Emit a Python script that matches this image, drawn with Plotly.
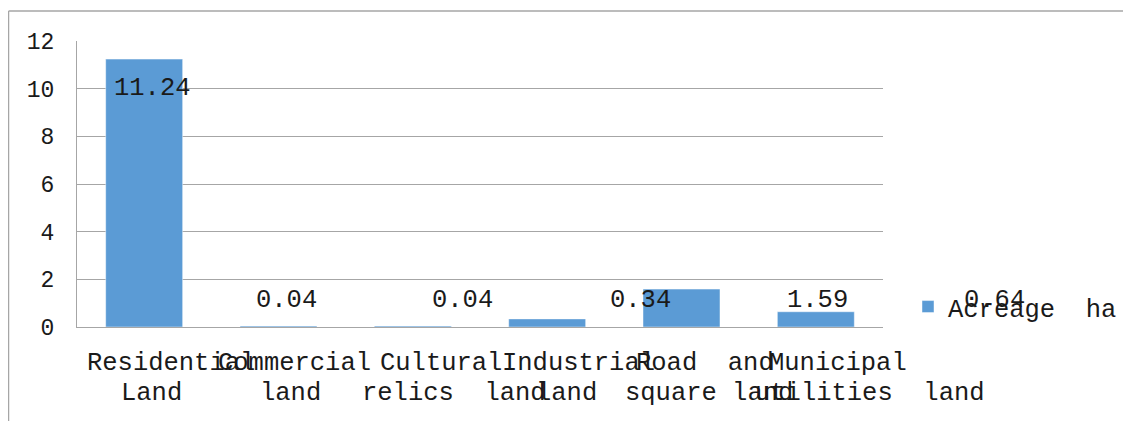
import plotly.graph_objects as go

# ---- data ----
categories = ["Residential Land", "Commercial land", "Cultural relics land",
              "Industrial land", "Road and square land", "Municipal utilities land"]
values = [11.24, 0.04, 0.04, 0.34, 1.59, 0.64]
value_labels = ["11.24", "0.04", "0.04", "0.34", "1.59", "0.64"]
tick_line1 = ["Residential", "Commercial", "Cultural", "Industrial", "Road  and", "Municipal"]
tick_line2 = ["Land", "land", "relics  land", "land", "square land", "utilities  land"]
series_name = "Acreage  ha"
y_ticks = [0, 2, 4, 6, 8, 10, 12]

# ---- style / layout constants ----
FONT = "Liberation Mono, Courier New, monospace"
TXT = "#1a1a1a"
GRID = "#a6a6a6"
BLUE = "#5b9bd5"
OFF = 8  # page body margin
W, H = 1131 - OFF, 421 - OFF
ML, MR, MT, MB = 77 - OFF, 248, 41 - OFF, 94
label_xshift = [8, 8, 50, 93, 136, 179]
line1_xshift = [-59, -63, -35, -47, -48, -49]
line2_xshift = [-25, -21, -53, -13, -59, -63]

fig = go.Figure()
fig.add_trace(go.Bar(
    x=categories, y=values, name=series_name,
    marker=dict(color=BLUE, line=dict(color="rgba(255,255,255,0.45)", width=1)),
    width=0.573, showlegend=True, hoverinfo="x+y",
))

annotations = []
for i, (c, v, t) in enumerate(zip(categories, values, value_labels)):
    big = v > 2
    annotations.append(dict(
        x=c, y=v if big else 0, xref="x", yref="y", text=t, showarrow=False,
        xanchor="center", yanchor="middle", xshift=label_xshift[i],
        yshift=-29 if big else 27,
        font=dict(family=FONT, size=25.5, color=TXT),
    ))
for i, c in enumerate(categories):
    for txt, xs, ys in ((tick_line1[i], line1_xshift[i], -36),
                        (tick_line2[i], line2_xshift[i], -66)):
        annotations.append(dict(
            x=c, y=0, xref="x", yref="y", text=txt.replace(" ", "&nbsp;"),
            showarrow=False, xanchor="left", yanchor="middle",
            xshift=xs, yshift=ys,
            font=dict(family=FONT, size=25.5, color=TXT),
        ))

pw = W - ML - MR
ph = H - MT - MB
bx = (8 - OFF) / pw - ML / pw + 0.6 / pw
by = (H - MB - (11 - OFF)) / ph
shapes = [
    dict(type="line", xref="paper", yref="paper", x0=bx, x1=(W - ML + 5) / pw,
         y0=by, y1=by, line=dict(color=GRID, width=1.3)),
    dict(type="line", xref="paper", yref="paper", x0=bx, x1=bx,
         y0=by, y1=-(MB + 5) / ph, line=dict(color=GRID, width=1.3)),
]

fig.update_layout(
    width=W, height=H,
    margin=dict(l=ML, r=MR, t=MT, b=MB, pad=0, autoexpand=False),
    paper_bgcolor="white", plot_bgcolor="white",
    font=dict(family=FONT, color=TXT),
    xaxis=dict(type="category", range=[-0.5, 5.5], showticklabels=False,
               showgrid=False, showline=True, linecolor=GRID, linewidth=1.3,
               ticks="", zeroline=False, fixedrange=True),
    yaxis=dict(range=[0, 12], tickvals=y_ticks, showgrid=True, gridcolor=GRID,
               gridwidth=1.3, showline=True, linecolor=GRID, linewidth=1.3,
               ticks="", ticklabelstandoff=17, zeroline=False,
               tickfont=dict(family=FONT, size=23, color=TXT), fixedrange=True),
    legend=dict(xref="container", yref="container",
                x=(908 - OFF) / W, y=(421 - 307) / H, xanchor="left",
                yanchor="middle", font=dict(family=FONT, size=25.5, color=TXT),
                bgcolor="rgba(0,0,0,0)", borderwidth=0),
    annotations=annotations,
    shapes=shapes,
    bargap=0.427,
)

fig.write_html("out.html")
